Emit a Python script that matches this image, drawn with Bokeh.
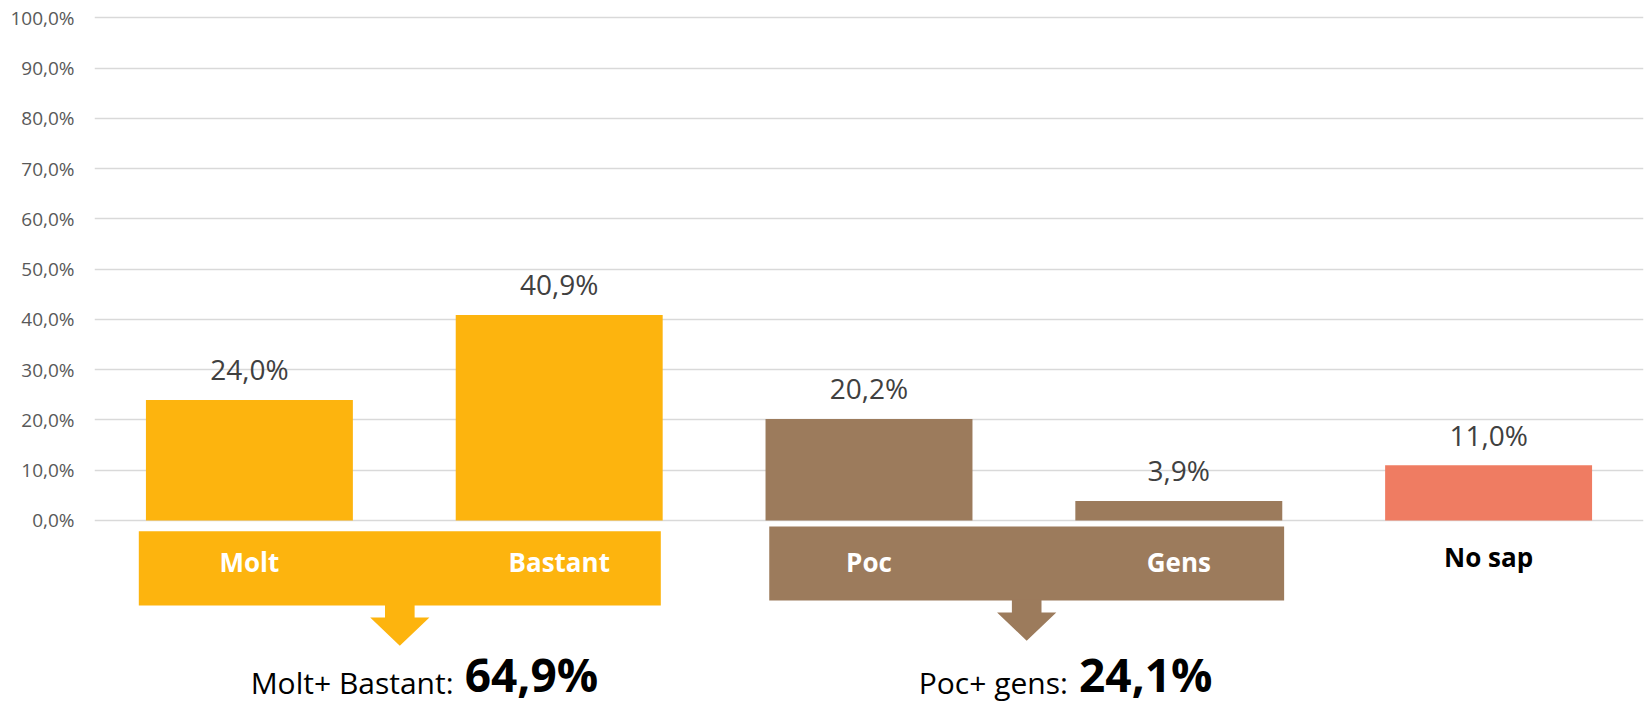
from bokeh.plotting import figure
from bokeh.models import Range1d, FixedTicker, ColumnDataSource, FactorRange
from bokeh.core.properties import value
from bokeh.embed import file_html
from bokeh.resources import INLINE

# ---- data ----
categories = ["Molt", "Bastant", "Poc", "Gens", "No sap"]
percentages = [24.0, 40.9, 20.2, 3.9, 11.0]
bar_colors = ["#FDB40E", "#FDB40E", "#9C7B5C", "#9C7B5C", "#EF7C62"]
label_colors = ["#FFFFFF", "#FFFFFF", "#FFFFFF", "#FFFFFF", "#000000"]

y_ticks = [0, 10, 20, 30, 40, 50, 60, 70, 80, 90, 100]
y_tick_labels = ["0,0%", "10,0%", "20,0%", "30,0%", "40,0%", "50,0%",
                 "60,0%", "70,0%", "80,0%", "90,0%", "100,0%"]

group_names = ["Molt+ Bastant:", "Poc+ gens:"]
group_totals = ["64,9%", "24,1%"]
group_members = [(0, 1), (2, 3)]
group_colors = ["#FDB40E", "#9C7B5C"]

# ---- layout / style constants ----
BAR_W = 0.668
FONT = value("Open Sans")
band_pad = [(-0.023, -0.006), (0.012, 0.006)]      # offsets of band edges from bar edges
band_y = [(-2.13, -16.92), (-1.19, -15.92)]         # band top / bottom (axis units)
text_anchor = [1.177, 3.160]                        # junction of regular and bold text
label_y = [-8.26, -8.26, -8.26, -8.26, -7.26]       # category labels
SUM_Y_REG = -32.2
SUM_Y_BOLD = -30.5
SHAFT_HW, HEAD_HW, SHAFT_L, HEAD_L = 0.0478, 0.0956, 2.4, 5.6

p = figure(x_range=FactorRange(*categories), y_range=Range1d(-36.82, 103.48),
           frame_width=1549, frame_height=705,
           min_border_left=94, min_border_right=2, min_border_top=0, min_border_bottom=0,
           x_axis_location=None, output_backend="svg", toolbar_location=None)
p.outline_line_color = None
p.background_fill_color = "white"
p.border_fill_color = "white"
p.xgrid.visible = False

p.yaxis.ticker = FixedTicker(ticks=y_ticks)
p.yaxis.major_label_overrides = {t: l for t, l in zip(y_ticks, y_tick_labels)}
p.yaxis.axis_line_color = None
p.yaxis.major_tick_line_color = None
p.yaxis.minor_tick_line_color = None
p.yaxis.major_tick_out = 0
p.yaxis.major_tick_in = 0
p.yaxis.major_label_standoff = 20
p.yaxis.major_label_text_font = "Open Sans"
p.yaxis.major_label_text_font_size = "19px"
p.yaxis.major_label_text_color = "#595959"
p.ygrid.ticker = FixedTicker(ticks=y_ticks)
p.ygrid.grid_line_color = "#D9D9D9"
p.ygrid.grid_line_width = 1.5

src = ColumnDataSource(dict(
    cat=categories, val=percentages, color=bar_colors,
    lbl=[f"{v:.1f}".replace(".", ",") + "%" for v in percentages],
    lcol=label_colors, ly=label_y,
))
p.vbar(x="cat", top="val", bottom=0, width=BAR_W, fill_color="color",
       line_color=None, source=src)
p.text(x="cat", y="val", text="lbl", y_offset=-30.5, text_align="center",
       text_baseline="alphabetic", text_font=FONT, text_font_size="28px",
       text_color="#404040", source=src)

# group bands and arrows
for g, (a, b) in enumerate(group_members):
    left = a + 0.5 - BAR_W / 2 + band_pad[g][0]
    right = b + 0.5 + BAR_W / 2 + band_pad[g][1]
    top, bot = band_y[g]
    p.quad(left=[left], right=[right], top=[top], bottom=[bot],
           fill_color=group_colors[g], line_color=None)
    cx = (left + right) / 2
    y1 = bot - SHAFT_L
    y2 = y1 - HEAD_L
    xs = [cx - SHAFT_HW, cx + SHAFT_HW, cx + SHAFT_HW, cx + HEAD_HW, cx,
          cx - HEAD_HW, cx - SHAFT_HW]
    ys = [bot + 0.2, bot + 0.2, y1, y1, y2, y1, y1]
    p.patch(xs, ys, fill_color=group_colors[g], line_color=None)
    p.text(x=[text_anchor[g] - 0.018], y=[SUM_Y_REG], text=[group_names[g]],
           text_align="right", text_baseline="alphabetic", text_font=FONT,
           text_font_size="30px", text_color="#000000")
    p.text(x=[text_anchor[g] + 0.018], y=[SUM_Y_BOLD], text=[group_totals[g]],
           text_align="left", text_baseline="alphabetic", text_font=FONT,
           text_font_size="46px", text_font_style="bold", text_color="#000000")

# category labels (inside the bands)
p.text(x="cat", y="ly", text="cat", text_align="center", text_baseline="alphabetic",
       text_font=FONT, text_font_size="26px", text_font_style="bold",
       text_color="lcol", source=src)

open("out.html", "w").write(file_html(p, INLINE))
